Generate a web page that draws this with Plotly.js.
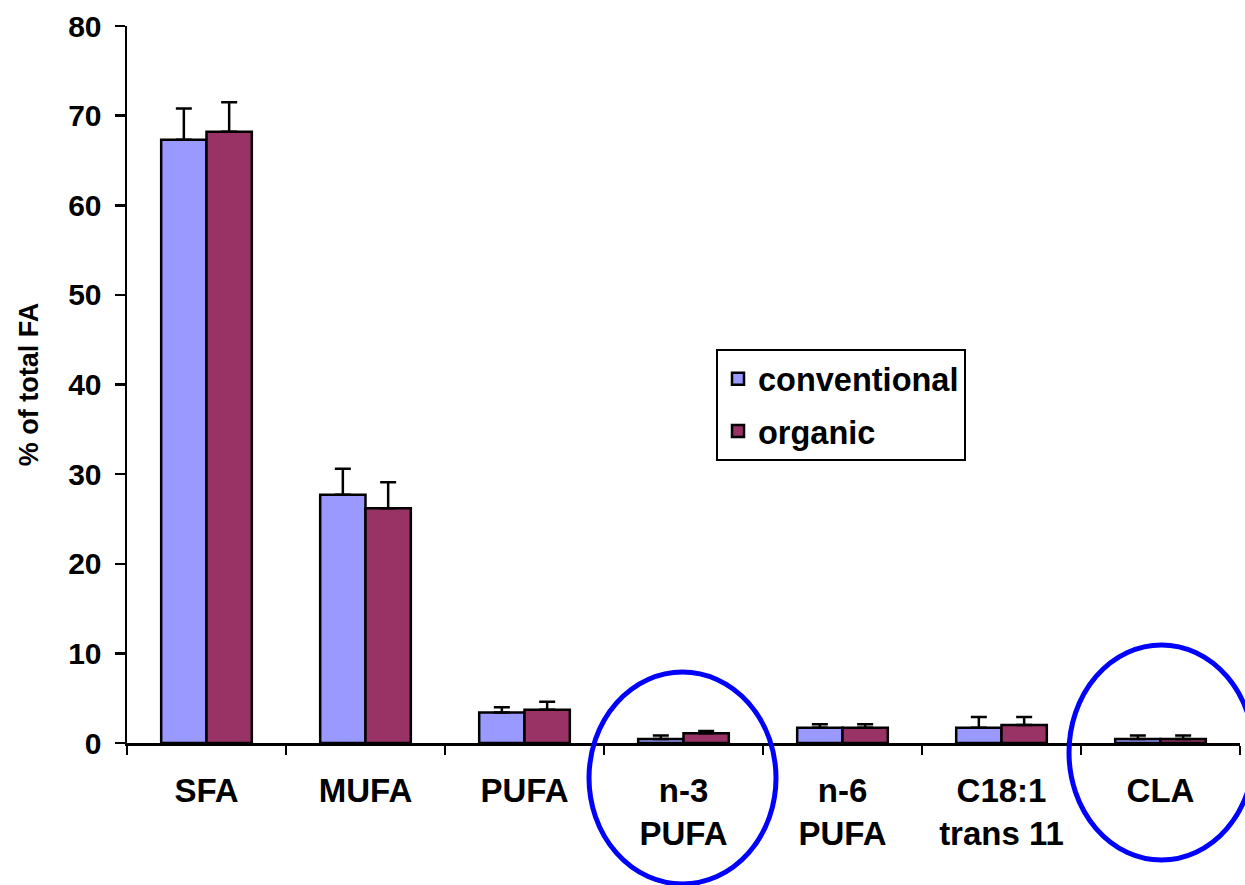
<!DOCTYPE html>
<html>
<head>
<meta charset="utf-8">
<script src="https://cdn.plot.ly/plotly-3.0.1.min.js"></script>
<style>
html,body{margin:0;padding:0;background:#fff;}
#chart{width:1245px;height:885px;}
</style>
</head>
<body>
<div id="chart"></div>
<script>
const categories = ["SFA", "MUFA", "PUFA", "n-3<br>PUFA", "n-6<br>PUFA", "C18:1<br>trans 11", "CLA"];
const conventional = [67.3, 27.7, 3.4, 0.45, 1.7, 1.7, 0.45];
const conventionalErr = [3.5, 2.9, 0.6, 0.4, 0.4, 1.2, 0.4];
const organic = [68.2, 26.2, 3.7, 1.1, 1.7, 2.0, 0.45];
const organicErr = [3.3, 2.9, 0.9, 0.25, 0.4, 0.9, 0.4];
const yTicks = [0, 10, 20, 30, 40, 50, 60, 70, 80];

const FONT = "Arial, 'Liberation Sans', sans-serif";

function barTrace(name, y, err, color, group) {
  return {
    type: "bar",
    name: name,
    x: categories,
    y: y,
    legendgroup: group,
    marker: {color: color, line: {color: "#000", width: 2.5}},
    error_y: {type: "data", array: err, arrayminus: err.map(() => 0), symmetric: false,
              color: "#000", thickness: 2.5, width: 8},
  };
}

const data = [
  barTrace("conventional", conventional, conventionalErr, "#9999FF", "a"),
  barTrace("organic", organic, organicErr, "#993366", "b"),
];

const L = 127, R = 1240, T = 26, B = 743;
const px = v => (v - L) / (R - L);
const py = v => (B - v) / (B - T);

const layout = {
  width: 1245, height: 885,
  margin: {l: L, r: 1245 - R, t: T, b: 885 - B},
  paper_bgcolor: "#fff", plot_bgcolor: "#fff",
  font: {family: FONT, color: "#000", weight: 700},
  bargap: 0.43, bargroupgap: 0,
  barmode: "group",
  showlegend: true,
  legend: {
    x: px(716), y: py(349), xanchor: "left", yanchor: "top",
    bordercolor: "#000", borderwidth: 2, bgcolor: "#fff",
    font: {size: 32.5, family: FONT, weight: 700},
    traceorder: "grouped", tracegroupgap: 7,
  },
  xaxis: {
    type: "category",
    range: [-0.5, 6.5],
    showline: true, linecolor: "#000", linewidth: 2.5,
    ticks: "outside", tickson: "boundaries", ticklen: 9, tickwidth: 2.5, tickcolor: "#000",
    tickfont: {size: 33, family: FONT, weight: 700},
    ticklabelstandoff: 17,
    showgrid: false, zeroline: false, fixedrange: true,
  },
  yaxis: {
    range: [0, 80],
    tickvals: yTicks,
    showline: true, linecolor: "#000", linewidth: 2.5,
    ticks: "outside", ticklen: 10, tickwidth: 2.5, tickcolor: "#000",
    tickfont: {size: 30, family: FONT, weight: 700},
    ticklabelstandoff: 7,
    showgrid: false, zeroline: false,
    title: {text: "% of total FA", font: {size: 27, family: FONT, weight: 700}, standoff: 22},
  },
  shapes: [
    {type: "circle", xref: "paper", yref: "paper",
     x0: px(589), x1: px(776), y0: py(884), y1: py(672),
     line: {color: "#0000FF", width: 5}},
    {type: "circle", xref: "paper", yref: "paper",
     x0: px(1069), x1: px(1254), y0: py(860), y1: py(645),
     line: {color: "#0000FF", width: 5}},
  ],
};

Plotly.newPlot("chart", data, layout, {displayModeBar: false, staticPlot: true});
</script>
</body>
</html>
